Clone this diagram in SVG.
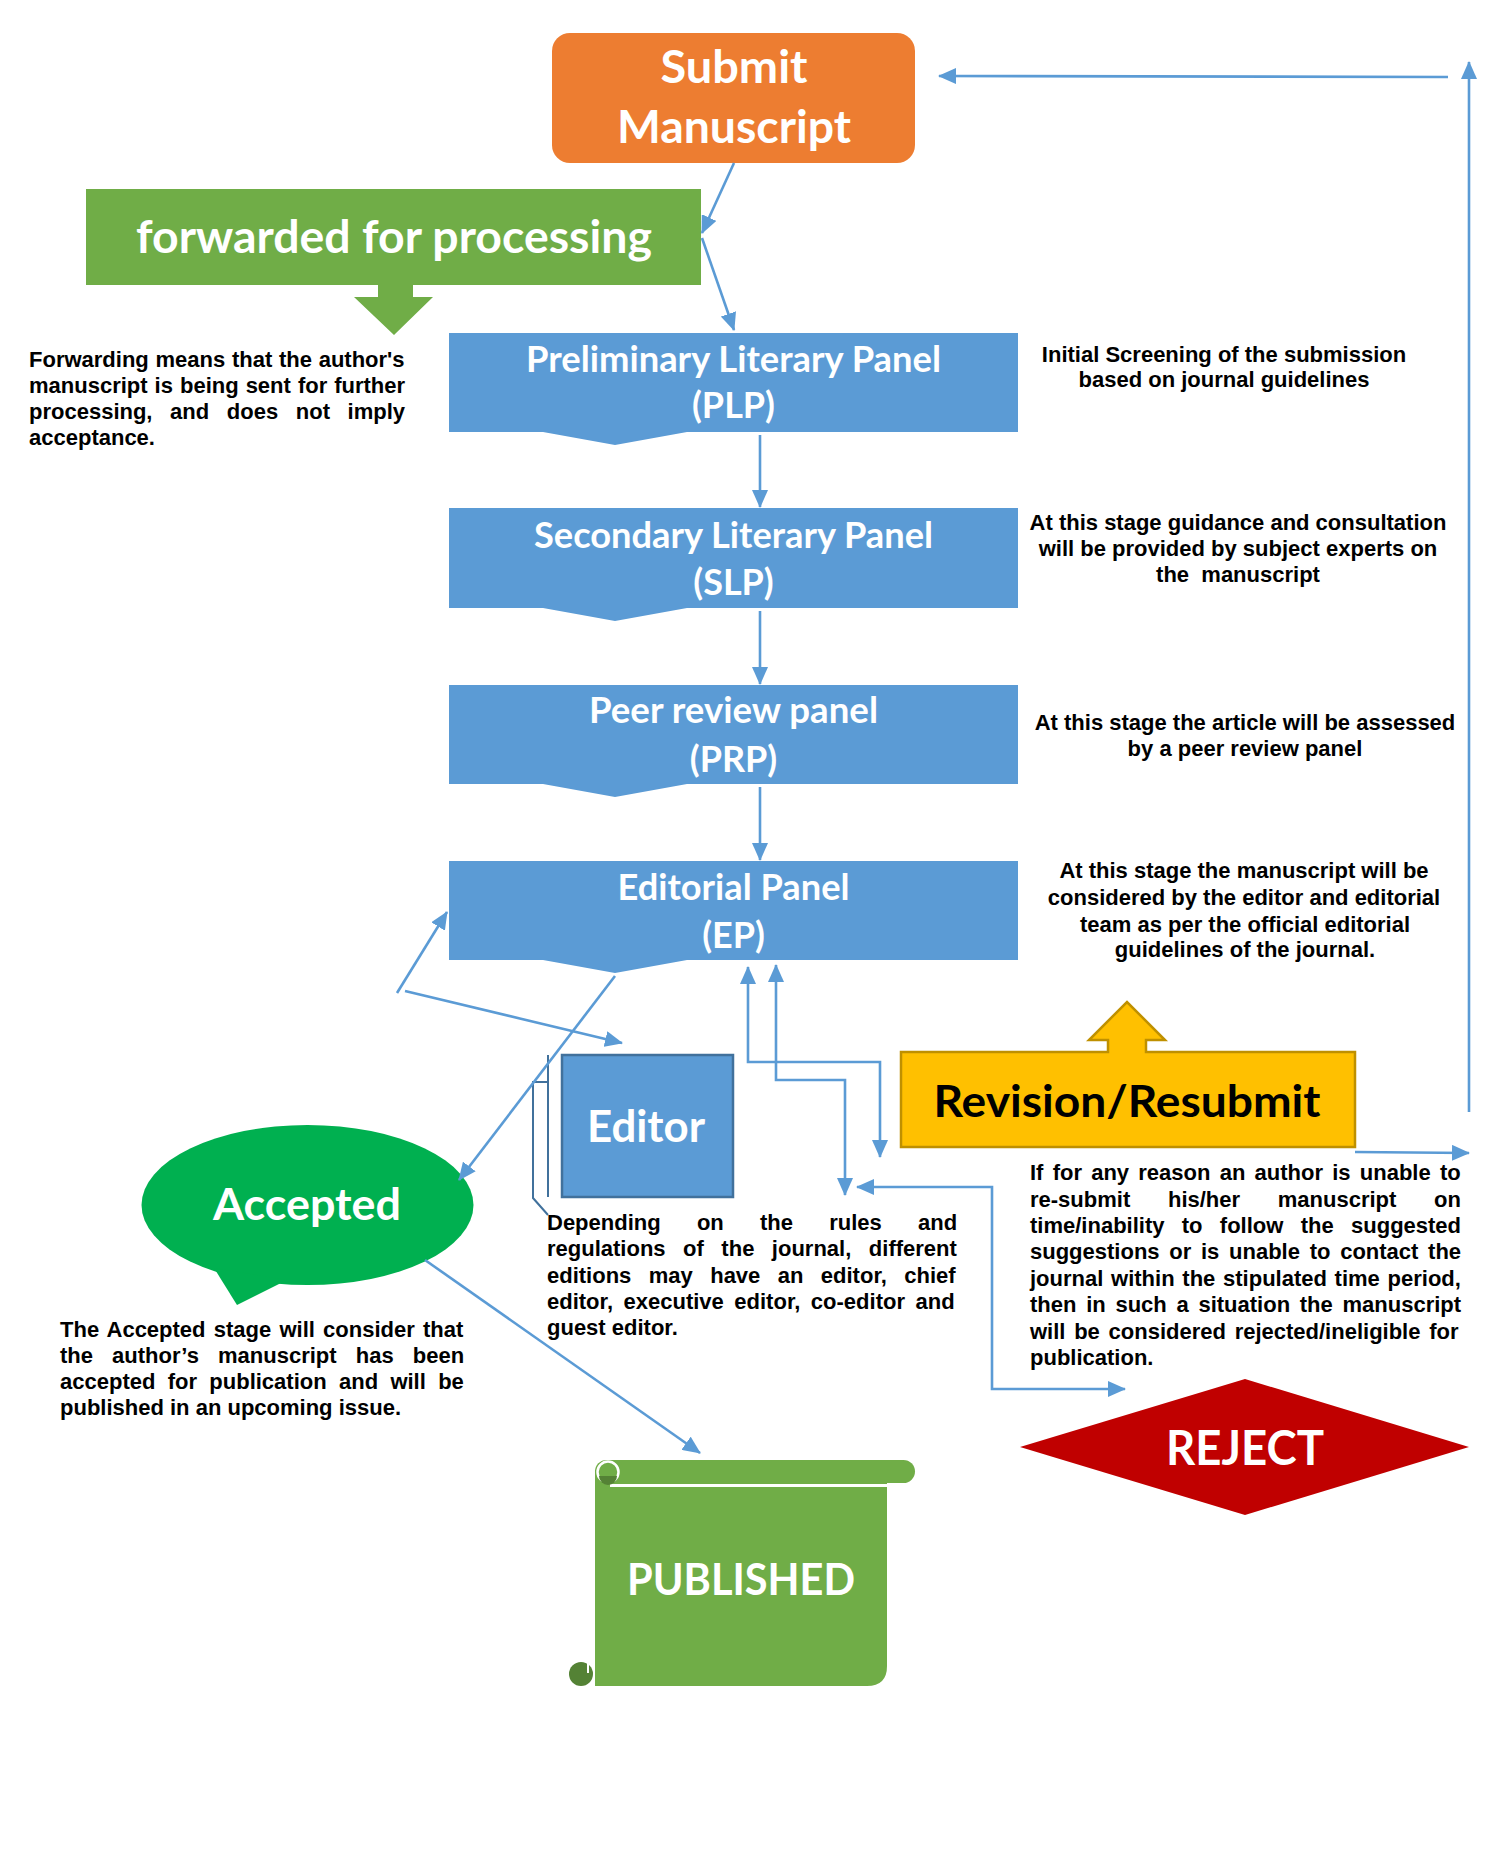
<svg xmlns="http://www.w3.org/2000/svg" width="1500" height="1870" viewBox="0 0 1500 1870">
<style>
.body{font-family:"Liberation Sans",Arial,sans-serif;font-weight:bold;font-size:22px;fill:#000}
.ctr{text-anchor:middle}
.lbl{font-family:Lato,"Open Sans",sans-serif;font-weight:bold;fill:#fff;text-anchor:middle}
.blue{fill:#5B9BD5}
.conn{fill:none;stroke:#5B9BD5;stroke-width:2.6;marker-end:url(#ah)}
.dbl{marker-start:url(#ah)}
</style>
<defs>
<marker id="ah" viewBox="0 0 18 16" refX="17" refY="8" markerWidth="18" markerHeight="16" markerUnits="userSpaceOnUse" orient="auto-start-reverse">
<path d="M0,0 L18,8 L0,16 Z" fill="#5B9BD5"/>
</marker>
</defs>
<rect width="1500" height="1870" fill="#fff"/>

<g id="submit">
<rect x="552" y="33" width="363" height="130" rx="18" fill="#ED7D31"/>
<text class="lbl" x="734" y="83" font-size="46" textLength="147" lengthAdjust="spacingAndGlyphs">Submit</text>
<text class="lbl" x="734" y="143" font-size="46" textLength="234" lengthAdjust="spacingAndGlyphs">Manuscript</text>
</g>

<g id="forwarded">
<rect x="86" y="189" width="615" height="96" fill="#70AD47"/>
<polygon points="378,284 413,284 413,297 433,297 394,335 354,297 378,297" fill="#70AD47"/>
<text class="lbl" x="394" y="253" font-size="46" textLength="516" lengthAdjust="spacingAndGlyphs">forwarded for processing</text>
</g>

<g id="forward-note" class="body">
<text x="29" y="367" word-spacing="0.6">Forwarding means that the author's</text>
<text x="29" y="393" word-spacing="0.9">manuscript is being sent for further</text>
<text x="29" y="419" word-spacing="11.5">processing, and does not imply</text>
<text x="29" y="445">acceptance.</text>
</g>

<g id="plp">
<path class="blue" d="M449,333 H1018 V432 H687 L615,445 L543,432 H449 Z"/>
<text class="lbl" x="733.5" y="372" font-size="36" textLength="415" lengthAdjust="spacingAndGlyphs">Preliminary Literary Panel</text>
<text class="lbl" x="733.5" y="418" font-size="36">(PLP)</text>
</g>
<g id="plp-note" class="body ctr">
<text x="1224" y="362">Initial Screening of the submission</text>
<text x="1224" y="387">based on journal guidelines</text>
</g>

<g id="slp">
<path class="blue" d="M449,508 H1018 V608 H687 L615,621 L543,608 H449 Z"/>
<text class="lbl" x="733.5" y="548" font-size="36" textLength="399" lengthAdjust="spacingAndGlyphs">Secondary Literary Panel</text>
<text class="lbl" x="733.5" y="595" font-size="36">(SLP)</text>
</g>
<g id="slp-note" class="body ctr">
<text x="1238" y="530">At this stage guidance and consultation</text>
<text x="1238" y="556">will be provided by subject experts on</text>
<text x="1238" y="582" xml:space="preserve">the  manuscript</text>
</g>

<g id="prp">
<path class="blue" d="M449,685 H1018 V784 H687 L615,797 L543,784 H449 Z"/>
<text class="lbl" x="733.5" y="723" font-size="36" textLength="289" lengthAdjust="spacingAndGlyphs">Peer review panel</text>
<text class="lbl" x="733.5" y="772" font-size="36">(PRP)</text>
</g>
<g id="prp-note" class="body ctr">
<text x="1245" y="730">At this stage the article will be assessed</text>
<text x="1245" y="756">by a peer review panel</text>
</g>

<g id="ep">
<path class="blue" d="M449,861 H1018 V960 H687 L615,973 L543,960 H449 Z"/>
<text class="lbl" x="733.5" y="900" font-size="36" textLength="232" lengthAdjust="spacingAndGlyphs">Editorial Panel</text>
<text class="lbl" x="733.5" y="948" font-size="36">(EP)</text>
</g>
<g id="ep-note" class="body ctr">
<text x="1244" y="878">At this stage the manuscript will be</text>
<text x="1244" y="905">considered by the editor and editorial</text>
<text x="1245" y="932">team as per the official editorial</text>
<text x="1245" y="957">guidelines of the journal.</text>
</g>

<g id="editor">
<path d="M548,1055 V1197 M548,1082 H533 V1198 L548,1215" fill="none" stroke="#41719C" stroke-width="2"/>
<rect x="562" y="1055" width="171" height="142" fill="#5B9BD5" stroke="#41719C" stroke-width="2.5"/>
<text class="lbl" x="646" y="1142" font-size="44" textLength="118" lengthAdjust="spacingAndGlyphs">Editor</text>
</g>
<g id="editor-note" class="body">
<text x="547" y="1230" word-spacing="30.1">Depending on the rules and</text>
<text x="547" y="1256" word-spacing="11.4">regulations of the journal, different</text>
<text x="547" y="1283" word-spacing="11.3">editions may have an editor, chief</text>
<text x="547" y="1309" word-spacing="4.4">editor, executive editor, co-editor and</text>
<text x="547" y="1335">guest editor.</text>
</g>

<g id="revision">
<path d="M901,1052 H1108 V1040 H1089 L1127,1002 L1165,1040 H1146 V1052 H1355 V1147 H901 Z" fill="#FFC000" stroke="#BF9000" stroke-width="2.5"/>
<text class="lbl" x="1127" y="1117" font-size="44" style="fill:#000" textLength="387" lengthAdjust="spacingAndGlyphs">Revision/Resubmit</text>
</g>
<g id="reject-note" class="body">
<text x="1030" y="1180" word-spacing="3.1">If for any reason an author is unable to</text>
<text x="1030" y="1207" word-spacing="31.6">re-submit his/her manuscript on</text>
<text x="1030" y="1233" word-spacing="11.2">time/inability to follow the suggested</text>
<text x="1030" y="1259" word-spacing="3.6">suggestions or is unable to contact the</text>
<text x="1030" y="1286" word-spacing="1.6">journal within the stipulated time period,</text>
<text x="1030" y="1312" word-spacing="3.6">then in such a situation the manuscript</text>
<text x="1030" y="1339" word-spacing="2.6">will be considered rejected/ineligible for</text>
<text x="1030" y="1365">publication.</text>
</g>

<g id="accepted">
<ellipse cx="307.5" cy="1205" rx="166" ry="80" fill="#00B050"/>
<polygon points="214,1268 237,1305 287,1280" fill="#00B050"/>
<text class="lbl" x="307" y="1220" font-size="44" textLength="188" lengthAdjust="spacingAndGlyphs">Accepted</text>
</g>
<g id="accepted-note" class="body">
<text x="60" y="1337" word-spacing="2.1">The Accepted stage will consider that</text>
<text x="60" y="1363" word-spacing="13.0">the author’s manuscript has been</text>
<text x="60" y="1389" word-spacing="6.2">accepted for publication and will be</text>
<text x="60" y="1415">published in an upcoming issue.</text>
</g>

<g id="published">
<path d="M595,1470 H887 V1666 Q887,1686 867,1686 H595 Z" fill="#70AD47"/>
<rect x="595" y="1460" width="320" height="23" rx="11.5" fill="#70AD47"/>
<line x1="610" y1="1485.5" x2="887" y2="1485.5" stroke="#fff" stroke-width="3"/>
<circle cx="608" cy="1472" r="10.5" fill="#70AD47" stroke="#fff" stroke-width="2.5"/>
<path d="M599,1476 A9,9 0 0 0 617,1476 Z" fill="#548235"/>
<circle cx="581" cy="1674" r="12" fill="#548235"/>
<path d="M588,1662 V1673" stroke="#fff" stroke-width="2"/>
<text class="lbl" x="741" y="1595" font-size="43" textLength="228" lengthAdjust="spacingAndGlyphs">PUBLISHED</text>
</g>

<g id="reject">
<polygon points="1020,1447 1245,1379 1469,1447 1245,1515" fill="#C00000"/>
<text class="lbl" x="1245" y="1465" font-size="47" textLength="158" lengthAdjust="spacingAndGlyphs">REJECT</text>
</g>

<g id="connectors">
<path class="conn" d="M734,163 L702,233"/>
<path class="conn" d="M702,238 L734,330"/>
<path class="conn" d="M760,435 V507"/>
<path class="conn" d="M760,611 V684"/>
<path class="conn" d="M760,787 V860"/>
<path class="conn" d="M1469,1112 V62"/>
<path class="conn" d="M1448,77 L939,76"/>
<path class="conn" d="M1355,1152 L1469,1153"/>
<path class="conn dbl" d="M748,967 V1062 H880 V1157"/>
<path class="conn dbl" d="M776,965 V1080 H845 V1195"/>
<path class="conn dbl" d="M857,1187 H992 V1389 H1125"/>
<path class="conn" d="M615,976 L459,1180"/>
<path class="conn" d="M397,993 L447,912"/>
<path class="conn" d="M405,991 L622,1043"/>
<path class="conn" d="M425,1260 L700,1453"/>
</g>
</svg>
